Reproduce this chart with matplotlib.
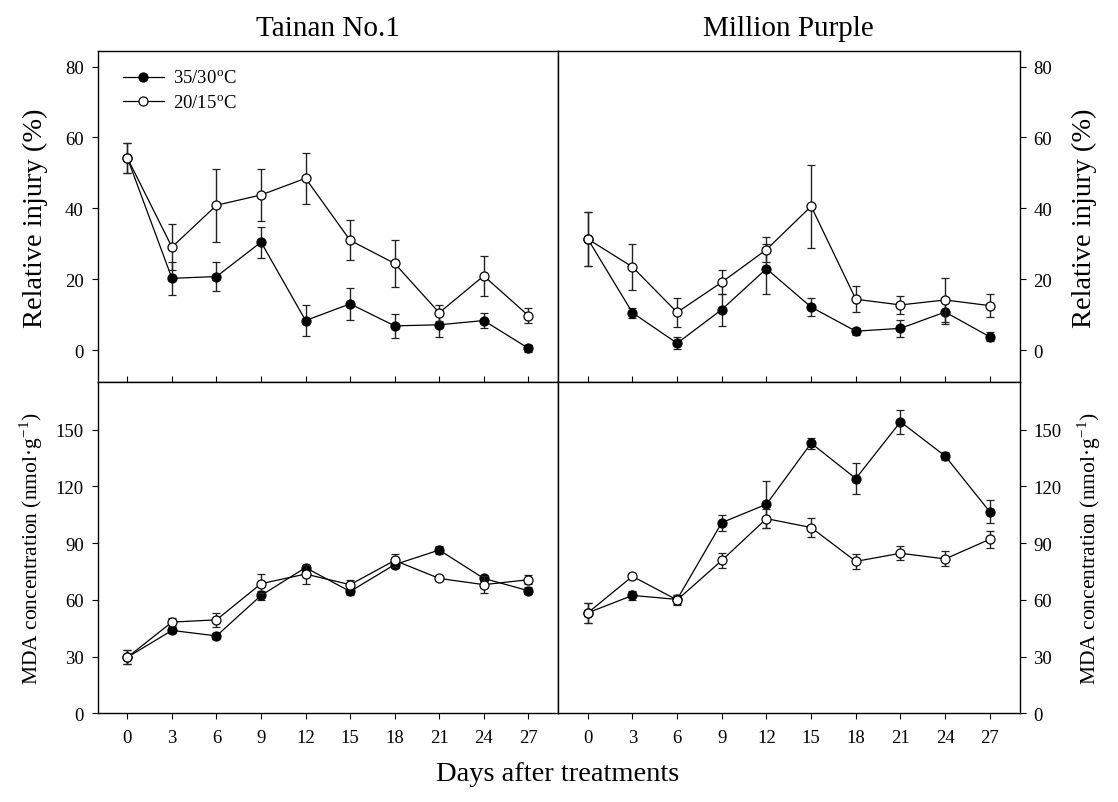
import matplotlib
matplotlib.use("Agg")
import matplotlib.pyplot as plt
from matplotlib.lines import Line2D
import numpy as np

plt.rcParams['font.family'] = ['Liberation Serif', 'DejaVu Serif']
plt.rcParams['mathtext.fontset'] = 'stix'

days = [0, 3, 6, 9, 12, 15, 18, 21, 24, 27]
cultivars = ["Tainan No.1", "Million Purple"]
series_labels = ["35/30$^{\\mathregular{o}}$C", "20/15$^{\\mathregular{o}}$C"]

# Relative injury (%)
ri_t_hot = [54.2, 20.3, 20.8, 30.5, 8.4, 13.1, 6.9, 7.2, 8.4, 0.6]
ri_t_hot_err = [4.2, 4.7, 4.0, 4.4, 4.3, 4.6, 3.4, 3.4, 2.2, 1.0]
ri_t_cold = [54.2, 29.1, 40.9, 43.8, 48.5, 31.0, 24.5, 10.6, 21.0, 9.8]
ri_t_cold_err = [4.2, 6.5, 10.3, 7.3, 7.2, 5.6, 6.7, 2.2, 5.6, 2.2]
ri_m_hot = [31.4, 10.6, 2.0, 11.5, 23.0, 12.2, 5.4, 6.2, 10.8, 3.8]
ri_m_hot_err = [7.5, 1.4, 1.7, 4.5, 7.0, 2.5, 1.0, 2.3, 3.5, 1.3]
ri_m_cold = [31.4, 23.5, 10.7, 19.2, 28.4, 40.6, 14.4, 12.8, 14.2, 12.6]
ri_m_cold_err = [7.5, 6.5, 4.0, 3.4, 3.6, 11.7, 3.6, 2.6, 6.3, 3.3]

# MDA concentration (nmol/g)
mda_t_hot = [29.6, 43.8, 40.9, 62.3, 77.0, 64.4, 78.6, 86.3, 71.3, 64.8]
mda_t_hot_err = [3.7, 1.5, 1.8, 2.5, 1.5, 2.0, 2.0, 2.0, 1.5, 2.0]
mda_t_cold = [29.6, 48.2, 49.4, 68.5, 73.6, 68.0, 80.8, 71.3, 68.0, 70.6]
mda_t_cold_err = [3.7, 2.0, 3.8, 5.0, 5.0, 2.5, 3.3, 1.0, 4.6, 2.5]
mda_m_hot = [53.1, 62.3, 60.2, 100.8, 110.5, 142.8, 124.1, 154.1, 136.0, 106.5]
mda_m_hot_err = [5.3, 2.5, 2.5, 4.2, 12.4, 3.0, 8.0, 6.5, 2.3, 6.0]
mda_m_cold = [53.1, 72.4, 59.9, 80.8, 102.9, 98.2, 80.3, 84.6, 81.6, 92.0]
mda_m_cold_err = [5.3, 1.5, 2.5, 4.0, 5.0, 5.0, 4.0, 3.6, 4.0, 4.5]

fig = plt.figure(figsize=(11.18, 8.03), dpi=100)
L, M, R = 0.0874, 0.4991, 0.912
T, C, B = 0.9349, 0.5227, 0.1105

ax_tl = fig.add_axes([L, C, M - L, T - C])
ax_tr = fig.add_axes([M, C, R - M, T - C])
ax_bl = fig.add_axes([L, B, M - L, C - B])
ax_br = fig.add_axes([M, B, R - M, C - B])

MS = 6.5

def plot_pair(ax, hot, hot_err, cold, cold_err, legend=False):
    kw = dict(color='black', lw=0.9, elinewidth=1.0, capsize=3.2, capthick=1.0,
              markersize=MS, markeredgewidth=0.9, markeredgecolor='black', ecolor='#222222')
    ax.errorbar(days, hot, yerr=hot_err, marker='o', markerfacecolor='black', zorder=3, **kw)
    ax.errorbar(days, cold, yerr=cold_err, marker='o', markerfacecolor='white', zorder=4, **kw)
    ax.set_xlim(-2, 29)
    for s in ax.spines.values():
        s.set_linewidth(1.0)
    if legend:
        handles = [Line2D([], [], color='black', lw=0.9, marker='o', markersize=MS,
                          markerfacecolor=fc, markeredgecolor='black', markeredgewidth=0.9)
                   for fc in ('black', 'white')]
        ax.legend(handles, series_labels, loc='upper left', frameon=False, fontsize=13.5,
                  handlelength=2.2, handletextpad=0.45, borderaxespad=0.4, labelspacing=0.38,
                  bbox_to_anchor=(0.022, 0.99))

plot_pair(ax_tl, ri_t_hot, ri_t_hot_err, ri_t_cold, ri_t_cold_err, legend=True)
plot_pair(ax_tr, ri_m_hot, ri_m_hot_err, ri_m_cold, ri_m_cold_err)
plot_pair(ax_bl, mda_t_hot, mda_t_hot_err, mda_t_cold, mda_t_cold_err)
plot_pair(ax_br, mda_m_hot, mda_m_hot_err, mda_m_cold, mda_m_cold_err)

for ax in (ax_tl, ax_tr):
    ax.set_ylim(-9, 84.3)
    ax.set_yticks([0, 20, 40, 60, 80])
    ax.set_xticks(days)
    ax.tick_params(axis='x', direction='in', length=4, labelbottom=False)
for ax in (ax_bl, ax_br):
    ax.set_ylim(0, 175)
    ax.set_yticks([0, 30, 60, 90, 120, 150])
    ax.set_xticks(days)
    ax.tick_params(axis='x', direction='out', length=4, labelsize=13.5, pad=7)

for ax in (ax_tl, ax_bl):
    ax.tick_params(axis='y', direction='out', length=4, labelsize=13.5, pad=6,
                   left=True, right=False)
for ax in (ax_tr, ax_br):
    ax.yaxis.tick_right()
    ax.yaxis.set_label_position('right')
    ax.tick_params(axis='y', direction='out', length=4, labelsize=13.5, pad=6,
                   left=False, right=True)

ax_tl.set_ylabel("Relative injury (%)", fontsize=20.5, labelpad=12)
ax_tr.set_ylabel("Relative injury (%)", fontsize=20.5, labelpad=14)
mda_label = "MDA concentration (nmol·g$^{\\mathregular{-1}}$)"
ax_bl.set_ylabel(mda_label, fontsize=15.5, labelpad=8)
ax_br.set_ylabel(mda_label, fontsize=15.5, labelpad=10)

ax_tl.set_title(cultivars[0], fontsize=21, pad=12)
ax_tr.set_title(cultivars[1], fontsize=21, pad=12)

fig.text(0.4991, 0.035, "Days after treatments", ha='center', va='center', fontsize=20.5)

fig.savefig("out.png", dpi=100)
